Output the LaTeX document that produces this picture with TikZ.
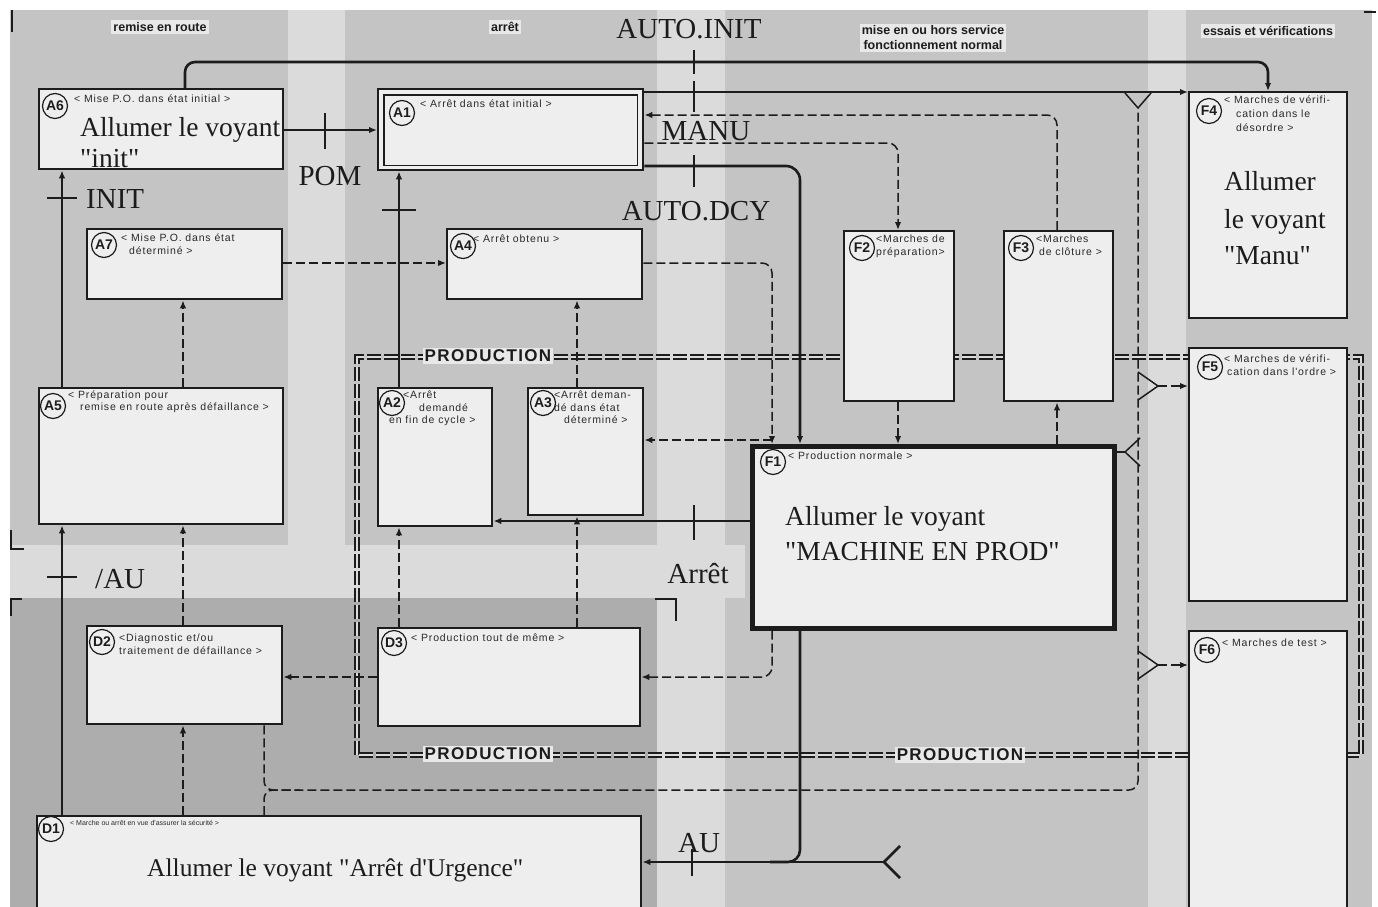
\documentclass[tikz,border=0pt]{standalone}
\usepackage{fontspec}
\setmainfont{Liberation Serif}
\newfontfamily\labf[LetterSpace=8]{Liberation Sans}
\newfontfamily\sansn{Liberation Sans}
\newfontfamily\serifn{Liberation Serif}
\usetikzlibrary{arrows.meta,calc}
\definecolor{bgc}{HTML}{C4C4C4}
\definecolor{bgl}{HTML}{DBDBDB}
\definecolor{bgd}{HTML}{ADADAD}
\definecolor{boxc}{HTML}{EEEEEE}
\definecolor{linec}{HTML}{1C1C1C}
\definecolor{txtc}{HTML}{2A2A2A}
\definecolor{hdrc}{HTML}{E8E8E8}
\begin{document}
\begin{tikzpicture}[x=1pt,y=-1pt,
  gbox/.style={draw=linec, fill=boxc, line width=2.4pt, anchor=north west, inner sep=0pt},
  idc/.style={circle, draw=linec, line width=1.2pt, fill=boxc, inner sep=0pt, minimum size=25pt,
    font=\sansn\bfseries\fontsize{14}{14}\selectfont, text=linec},
  lab/.style={anchor=north west, inner sep=0pt, align=left, font=\labf\fontsize{10.5}{12.5}\selectfont, text=txtc},
  big/.style={anchor=base west, inner sep=0pt, font=\serifn\fontsize{27.5}{30}\selectfont, text=linec},
  trl/.style={inner sep=0pt, font=\serifn\fontsize{29}{30}\selectfont, text=linec},
  sline/.style={draw=linec, line width=2.6pt},
  dline/.style={draw=linec, line width=1.5pt, dash pattern=on 9pt off 4pt},
  thinl/.style={draw=linec, line width=1.5pt},
  arr/.style={-{Latex[length=8pt,width=6.5pt]}},
  tick/.style={draw=linec, line width=2.4pt},
  hdr/.style={fill=hdrc, inner sep=2pt, align=center, font=\sansn\bfseries\fontsize{12.5}{15}\selectfont, text=linec},
  prod/.style={fill=hdrc, inner sep=1.5pt, font=\labf\bfseries\fontsize{17}{17}\selectfont, text=linec},
  pframe/.style={draw=linec, line width=2pt, double=bgl, double distance=2pt, dash pattern=on 14pt off 3pt}
]
\useasboundingbox (0,0) rectangle (1378,907);
% background
\fill[white] (0,0) rectangle (1378,907);
\fill[bgc] (10,10) rectangle (1372,907);
\fill[bgl] (288,10) rectangle (345,545);
\fill[bgl] (657,10) rectangle (725,907);
\fill[bgl] (1148,10) rectangle (1186,907);
\fill[bgl] (10,545) rectangle (745,598);
\fill[bgd] (10,598) rectangle (657,907);
% zone marks
\draw[line width=1.2pt, draw=linec] (12,10) -- (12,32);
\draw[line width=1.2pt, draw=linec] (1364,12) -- (1376,12);
\draw[line width=1.2pt, draw=linec] (11,530) -- (11,549) -- (24,549);
\draw[line width=1.2pt, draw=linec] (11,616) -- (11,599) -- (22,599);
\draw[line width=1.2pt, draw=linec] (655,599) -- (676,599) -- (676,621);

% headers
\node[hdr] (h1) at (160,27) {remise en route};
\node[hdr] (h2) at (505,27) {arrêt};
\node[hdr] (h3) at (933,38) {mise en ou hors service\\fonctionnement normal};
\node[hdr] (h4) at (1268,31) {essais et vérifications};

% PRODUCTION frame
\draw[pframe] (357,755) -- (357,357) -- (1361,357) -- (1361,755) -- cycle;

% coordinates
\coordinate (X62) at (62,0);
\coordinate (X183) at (183,0);
\coordinate (X185) at (185,0);
\coordinate (X264) at (264,0);
\coordinate (X400) at (399,0);
\coordinate (X577) at (577,0);
\coordinate (X770) at (772,0);
\coordinate (X800) at (800,0);
\coordinate (X900) at (898,0);
\coordinate (X1057) at (1057,0);
\coordinate (X1138) at (1138,0);
\coordinate (X1268) at (1268,0);
\coordinate (Y62) at (0,62);
\coordinate (Y92) at (0,92);
\coordinate (Y115) at (0,115);
\coordinate (Y130) at (0,130);
\coordinate (Y143) at (0,143);
\coordinate (Y166) at (0,166);
\coordinate (Y263) at (0,263);
\coordinate (Y520) at (0,521);
\coordinate (Y677) at (0,677);
\coordinate (Y790) at (0,790);
\coordinate (Y860) at (0,862);

% boxes
\node[gbox, minimum width=244pt, minimum height=80pt] (A6) at (38,88) {};
\node[gbox, minimum width=265pt, minimum height=81pt] (A1) at (377,88) {};
\draw[line width=1.3pt, draw=linec] ([shift={(7,7)}]A1.north west) rectangle ([shift={(-7,-6)}]A1.south east);
\node[gbox, minimum width=158pt, minimum height=226pt] (F4) at (1188,91) {};
\node[gbox, minimum width=195pt, minimum height=70pt] (A7) at (86,228) {};
\node[gbox, minimum width=195pt, minimum height=70pt] (A4) at (446,228) {};
\node[gbox, minimum width=110pt, minimum height=170pt] (F2) at (843,230) {};
\node[gbox, minimum width=109pt, minimum height=170pt] (F3) at (1003,230) {};
\node[gbox, minimum width=244pt, minimum height=136pt] (A5) at (38,387) {};
\node[gbox, minimum width=114pt, minimum height=138pt] (A2) at (377,387) {};
\node[gbox, minimum width=115pt, minimum height=127pt] (A3) at (527,387) {};
\node[gbox, line width=4.5pt, minimum width=362pt, minimum height=182pt] (F1) at (750,444) {};
\node[gbox, minimum width=158pt, minimum height=253pt] (F5) at (1188,347) {};
\node[gbox, minimum width=195pt, minimum height=98pt] (D2) at (86,625) {};
\node[gbox, minimum width=262pt, minimum height=98pt] (D3) at (377,627) {};
\node[gbox, minimum width=158pt, minimum height=290pt] (F6) at (1188,630) {};
\node[gbox, minimum width=604pt, minimum height=100pt] (D1) at (36,815) {};

% connectors
\draw[sline,arr,rounded corners=10pt] (X185 |- A6.north) -- (X185 |- Y62) -- (X1268 |- Y62) -- (X1268 |- F4.north);
\draw[sline,arr] (A6.east |- Y130) -- (A1.west |- Y130);
\draw[sline,arr] (A1.east |- Y92) -- (F4.west |- Y92);
\draw[dline,arr,rounded corners=10pt] (X1057 |- F3.north) -- (X1057 |- Y115) -- (A1.east |- Y115);
\draw[dline,arr,rounded corners=10pt] (A1.east |- Y143) -- (X900 |- Y143) -- (X900 |- F2.north);
\draw[sline,arr,rounded corners=14pt] (A1.east |- Y166) -- (X800 |- Y166) -- (X800 |- F1.north);
\draw[dline,arr] (A7.east |- Y263) -- (A4.west |- Y263);
\draw[dline,arr,rounded corners=10pt] (A4.east |- Y263) -- (X770 |- Y263) -- (X770 |- F1.north);
\coordinate (J1) at (772,440);
\draw[dline,arr] (J1) -- (A3.east |- J1);
\draw[sline,arr] (X400 |- A2.north) -- (X400 |- A1.south);
\draw[dline,arr] (X577 |- A3.north) -- (X577 |- A4.south);
\draw[sline,arr] (F1.west |- Y520) -- (A2.east |- Y520);
\draw[dline,arr] (X900 |- F2.south) -- (X900 |- F1.north);
\draw[dline,arr] (X1057 |- F1.north) -- (X1057 |- F3.south);
\draw[sline,arr] (X62 |- A5.north) -- (X62 |- A6.south);
\draw[sline,arr] (X62 |- D1.north) -- (X62 |- A5.south);
\draw[dline,arr] (X183 |- A5.north) -- (X183 |- A7.south);
\draw[dline,arr] (X183 |- D2.north) -- (X183 |- A5.south);
\draw[dline,arr] (X183 |- D1.north) -- (X183 |- D2.south);
\draw[dline,arr] (X400 |- D3.north) -- (X400 |- A2.south);
\draw[dline,arr] (X577 |- D3.north) -- (X577 |- A3.south);
\draw[dline,arr,rounded corners=10pt] (X770 |- F1.south) -- (X770 |- Y677) -- (D3.east |- Y677);
\draw[dline,arr] (D3.west |- Y677) -- (D2.east |- Y677);
% AU
\coordinate (FK) at (884,862);
\draw[sline,arr] (FK) -- (D1.east |- FK);
\draw[sline,rounded corners=12pt] (X800 |- F1.south) -- (X800 |- Y860) -- (770,862);
\draw[sline] (FK) -- (900,846);
\draw[sline] (FK) -- (900,878);
% bottom loop and right bus
\draw[dline,rounded corners=9pt] (X264 |- D2.south) -- (X264 |- Y790) -- (X1138 |- Y790) -- (1138,108);
\draw[dline,rounded corners=9pt] (X264 |- D1.north) -- (X264 |- Y790) -- (300,790);
\draw[thinl] (1138,108) -- (1125,93);
\draw[thinl] (1138,108) -- (1151,93);
\coordinate (K5) at (1158,386);
\draw[thinl] (1138,372) -- (K5) -- (1138,400);
\draw[dline,arr] (K5) -- (F5.west |- K5);
\coordinate (K6) at (1158,665);
\draw[thinl] (1138,651) -- (K6) -- (1138,679);
\draw[dline,arr] (K6) -- (F6.west |- K6);
\coordinate (K1) at (1125,452);
\draw[thinl] (F1.east |- K1) -- (K1);
\draw[thinl] (1140,438) -- (K1) -- (1140,466);

% transitions ticks
\draw[tick] (325,113) -- (325,149);
\draw[tick] (47,198) -- (77,198);
\draw[tick] (47,577) -- (77,577);
\draw[tick] (382,210) -- (416,210);
\draw[tick] (694,50) -- (694,74);
\draw[tick] (694,81) -- (694,112);
\draw[tick] (694,155) -- (694,187);
\draw[tick] (694,505) -- (694,540);
\draw[tick] (692,849) -- (692,876);

% transition labels
\node[trl, anchor=base] (tAI) at (689,38) {AUTO.INIT};
\node[trl, anchor=base] (tPOM) at (330,185) {POM};
\node[trl, anchor=base west] (tINIT) at (86,208) {INIT};
\node[trl, anchor=base] (tMANU) at (706,140) {MANU};
\node[trl, anchor=base] (tAD) at (696,220) {AUTO.DCY};
\node[trl, anchor=base] (tArr) at (698,583) {Arrêt};
\node[trl, anchor=base west] (tNAU) at (95,588) {/AU};
\node[trl, anchor=base] (tAU) at (699,852) {AU};

% PRODUCTION labels
\node[prod] (p1) at (488,356) {PRODUCTION};
\node[prod] (p2) at (488,754) {PRODUCTION};
\node[prod] (p3) at (960,755) {PRODUCTION};

% ids
\node[idc] (A6i) at ([shift={(17,18)}]A6.north west) {A6};
\node[idc] (A1i) at ([shift={(25,25)}]A1.north west) {A1};
\node[idc] (F4i) at ([shift={(21,20)}]F4.north west) {F4};
\node[idc] (A7i) at ([shift={(18,17)}]A7.north west) {A7};
\node[idc] (A4i) at ([shift={(17,18)}]A4.north west) {A4};
\node[idc] (F2i) at ([shift={(19,18)}]F2.north west) {F2};
\node[idc] (F3i) at ([shift={(18,18)}]F3.north west) {F3};
\node[idc] (A5i) at ([shift={(15,19)}]A5.north west) {A5};
\node[idc] (A2i) at ([shift={(15,16)}]A2.north west) {A2};
\node[idc] (A3i) at ([shift={(16,16)}]A3.north west) {A3};
\node[idc] (F1i) at ([shift={(23,18)}]F1.north west) {F1};
\node[idc] (F5i) at ([shift={(22,20)}]F5.north west) {F5};
\node[idc] (D2i) at ([shift={(16,17)}]D2.north west) {D2};
\node[idc] (D3i) at ([shift={(17,16)}]D3.north west) {D3};
\node[idc] (F6i) at ([shift={(19,20)}]F6.north west) {F6};
\node[idc] (D1i) at ([shift={(15,14)}]D1.north west) {D1};

% small labels
\node[lab] (A6l) at (74,95) {< Mise P.O. dans état initial >};
\node[lab] (A1l) at (420,100) {< Arrêt dans état initial >};
\node[lab, font=\labf\fontsize{10.5}{14}\selectfont] (F4l) at (1224,96) {< Marches de vérifi-\\\hspace*{12pt}cation dans le\\\hspace*{12pt}désordre >};
\node[lab] (A7l) at (121,234) {< Mise P.O. dans état\\\hspace*{8pt}déterminé >};
\node[lab] (A4l) at (473,235) {< Arrêt obtenu >};
\node[lab, font=\labf\fontsize{10.5}{13}\selectfont] (F2l) at (876,235) {<Marches de\\préparation>};
\node[lab, font=\labf\fontsize{10.5}{13}\selectfont] (F3l) at (1036,235) {<Marches\\\hspace*{3pt}de clôture >};
\node[lab, font=\labf\fontsize{10.5}{11.5}\selectfont] (A5l) at (68,391) {< Préparation pour\\\hspace*{12pt}remise en route après défaillance >};
\node[lab, font=\labf\fontsize{10.5}{12.5}\selectfont] (A2l) at (389,391) {\hspace*{14pt}<Arrêt\\\hspace*{30pt}demandé\\en fin de cycle >};
\node[lab, font=\labf\fontsize{10.5}{12.5}\selectfont] (A3l) at (554,391) {<Arrêt deman-\\dé dans état\\\hspace*{10pt}déterminé >};
\node[lab] (F1l) at (788,452) {< Production normale >};
\node[lab, font=\labf\fontsize{10.5}{13}\selectfont] (F5l) at (1224,355) {< Marches de vérifi-\\\hspace*{3pt}cation dans l'ordre >};
\node[lab, font=\labf\fontsize{10.5}{13}\selectfont] (D2l) at (119,634) {<Diagnostic et/ou\\traitement de défaillance >};
\node[lab] (D3l) at (411,634) {< Production tout de même >};
\node[lab] (F6l) at (1222,639) {< Marches de test >};
\node[lab, font=\sansn\fontsize{7}{8}\selectfont] (D1l) at (70,820) {< Marche ou arrêt en vue d'assurer la sécurité >};

% big texts
\node[big] (A6b1) at (80,136) {Allumer le voyant};
\node[big] (A6b2) at (80,167) {"init"};
\node[big] (F4b1) at (1224,190) {Allumer};
\node[big] (F4b2) at (1224,228) {le voyant};
\node[big] (F4b3) at (1224,264) {"Manu"};
\node[big] (F1b1) at (785,525) {Allumer le voyant};
\node[big] (F1b2) at (785,560) {"MACHINE EN PROD"};
\node[big, font=\serifn\fontsize{25.5}{28}\selectfont] (D1b) at (147,876) {Allumer le voyant "Arrêt d'Urgence"};
\end{tikzpicture}
\end{document}
